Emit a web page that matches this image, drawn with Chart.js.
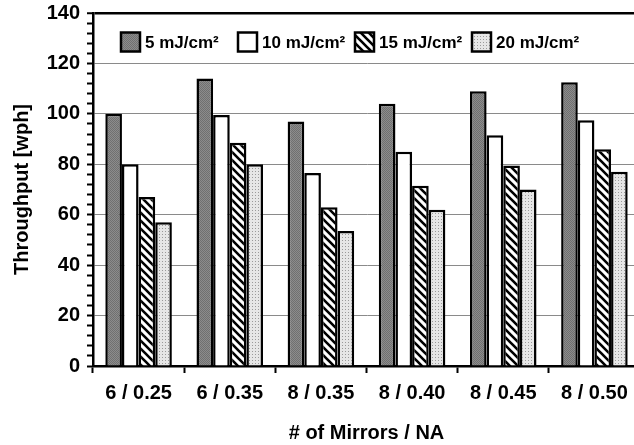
<!DOCTYPE html>
<html>
<head>
<meta charset="utf-8">
<script src="https://cdn.jsdelivr.net/npm/chart.js@4"></script>
<style>
  html, body { margin: 0; padding: 0; background: #fff; overflow: hidden; }
</style>
</head>
<body>
<canvas id="throughputChart" width="642" height="445"></canvas>
<script>
// Data
const categories = ['6 / 0.25', '6 / 0.35', '8 / 0.35', '8 / 0.40', '8 / 0.45', '8 / 0.50'];
const seriesLabels = ['5 mJ/cm²', '10 mJ/cm²', '15 mJ/cm²', '20 mJ/cm²'];
const fluence5 = [100, 114, 97, 104, 109, 112.5];
const fluence10 = [80, 99.5, 76.5, 85, 91.5, 97.5];
const fluence15 = [67, 88.5, 63, 71.5, 79.5, 86];
const fluence20 = [57, 80, 53.5, 62, 70, 77];
const yMax = 140;

const FONT = "'Liberation Sans', Arial, sans-serif";

// Fill patterns (dark dither, white, diagonal hatch, light dots)
function makePattern(size, draw) {
    const c = document.createElement('canvas');
    c.width = size;
    c.height = size;
    const g = c.getContext('2d');
    draw(g, size);
    return c.getContext('2d').createPattern(c, 'repeat');
}

const darkFill = makePattern(2, (g) => {
    g.fillStyle = '#8c8c8c';
    g.fillRect(0, 0, 2, 2);
    g.fillStyle = '#707070';
    g.fillRect(0, 0, 1, 1);
    g.fillRect(1, 1, 1, 1);
});

const hatchFill = makePattern(8, (g, s) => {
    g.fillStyle = '#fff';
    g.fillRect(0, 0, s, s);
    g.strokeStyle = '#000';
    g.lineWidth = 2.6;
    g.beginPath();
    g.moveTo(-2, -2); g.lineTo(s + 2, s + 2);
    g.moveTo(-2, s - 2); g.lineTo(2, s + 2);
    g.moveTo(s - 2, -2); g.lineTo(s + 2, 2);
    g.stroke();
});

const dotFill = makePattern(3, (g) => {
    g.fillStyle = '#e6e6e6';
    g.fillRect(0, 0, 3, 3);
    g.fillStyle = '#9a9a9a';
    g.fillRect(0, 0, 1, 1);
});

const fills = [darkFill, '#ffffff', hatchFill, dotFill];
const seriesValues = [fluence5, fluence10, fluence15, fluence20];

// Legend drawn inside the plot, below the top border
const insideLegend = {
    id: 'insideLegend',
    afterDraw(chart) {
        const ctx = chart.ctx;
        const area = chart.chartArea;
        const box = 19;
        const itemWidth = 117;
        let x = area.left + 28;
        const cy = area.top + 29;
        ctx.save();
        ctx.font = 'bold 17px ' + FONT;
        ctx.textBaseline = 'middle';
        ctx.textAlign = 'left';
        chart.data.datasets.forEach((ds) => {
            ctx.fillStyle = ds.backgroundColor;
            ctx.fillRect(x, cy - box / 2, box, box);
            ctx.strokeStyle = '#000';
            ctx.lineWidth = 2.5;
            ctx.strokeRect(x, cy - box / 2, box, box);
            ctx.fillStyle = '#000';
            ctx.fillText(ds.label, x + box + 5, cy + 1);
            x += itemWidth;
        });
        ctx.restore();
    }
};

new Chart(document.getElementById('throughputChart'), {
    type: 'bar',
    data: {
        labels: categories,
        datasets: seriesLabels.map((label, i) => ({
            label: label,
            data: seriesValues[i],
            backgroundColor: fills[i],
            borderColor: '#000',
            borderWidth: 2.5,
            borderSkipped: 'bottom',
            categoryPercentage: 0.73,
            barPercentage: 1.0
        }))
    },
    options: {
        responsive: false,
        animation: false,
        layout: { padding: { top: 13, right: 2, left: 0, bottom: 0 } },
        plugins: {
            legend: { display: false },
            tooltip: { enabled: false }
        },
        scales: {
            x: {
                afterFit: (scale) => { scale.height = 79; },
                grid: {
                    offset: true,
                    drawOnChartArea: false,
                    tickLength: 7,
                    tickColor: '#000',
                    tickWidth: 2
                },
                border: { color: '#000', width: 2.5 },
                ticks: {
                    color: '#000',
                    font: { family: FONT, size: 20, weight: 'bold' },
                    padding: 8
                },
                title: {
                    display: true,
                    text: '# of Mirrors / NA',
                    color: '#000',
                    font: { family: FONT, size: 20, weight: 'bold', lineHeight: 1.0 },
                    padding: { top: 0, bottom: 2 }
                }
            },
            y: {
                min: 0,
                max: yMax,
                afterFit: (scale) => {
                    scale.width = 93;
                    scale.paddingTop = 0;
                    scale.paddingBottom = 0;
                },
                grid: {
                    color: (ctx) => {
                        const v = ctx.tick ? ctx.tick.value : 0;
                        if (v === yMax) return '#000';
                        return v % 20 === 0 ? '#8a8a8a' : 'rgba(0,0,0,0)';
                    },
                    lineWidth: (ctx) => (ctx.tick && ctx.tick.value === yMax ? 2.5 : 1),
                    tickColor: '#000',
                    tickWidth: 2,
                    tickLength: 6
                },
                border: { color: '#000', width: 2.5 },
                ticks: {
                    stepSize: 4,
                    autoSkip: false,
                    color: '#000',
                    padding: 7,
                    font: { family: FONT, size: 20, weight: 'bold' },
                    callback: (value) => (value % 20 === 0 ? value : '')
                },
                title: {
                    display: true,
                    text: 'Throughput [wph]',
                    color: '#000',
                    font: { family: FONT, size: 20, weight: 'bold', lineHeight: 1.0 },
                    padding: { top: 12, bottom: 0 }
                }
            }
        }
    },
    plugins: [insideLegend]
});
</script>
</body>
</html>
